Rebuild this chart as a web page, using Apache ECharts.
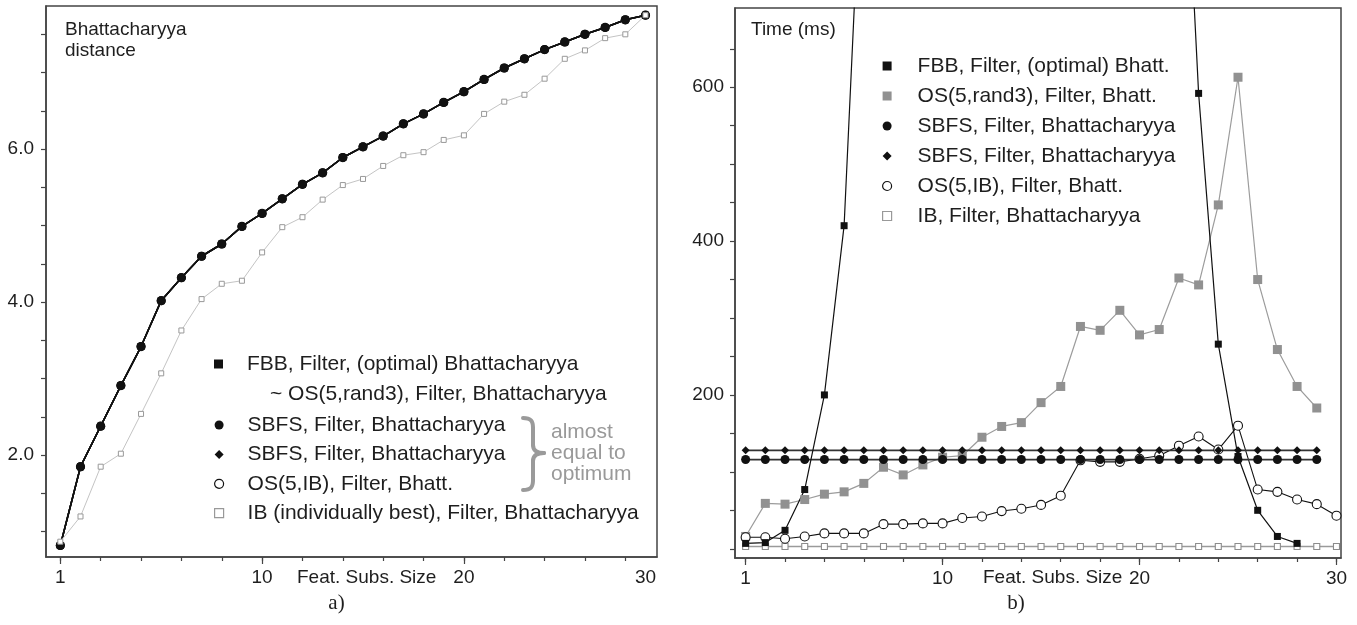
<!DOCTYPE html>
<html>
<head>
<meta charset="utf-8">
<script src="https://cdn.jsdelivr.net/npm/echarts@6/dist/echarts.min.js"></script>
<style>
  html, body { margin: 0; padding: 0; background: #fff; }
  #chart { width: 1357px; height: 625px; }
</style>
</head>
<body>
<div id="chart"></div>
<script>
// a) Bhattacharyya distance vs. feature subset size (x = tick position index)
var featPosA = [0, 1, 2, 3, 4, 5, 6, 7, 8, 9, 10, 11, 12, 13, 14, 15, 16, 17, 18, 19, 20, 21, 22, 23, 24, 25, 26, 27, 28, 29];
var bhattOptimum = [0.82, 1.85, 2.38, 2.91, 3.42, 4.02, 4.32, 4.60, 4.76, 4.99, 5.16, 5.35, 5.54, 5.69, 5.89, 6.03, 6.17, 6.33, 6.46, 6.61, 6.75, 6.91, 7.06, 7.18, 7.30, 7.40, 7.50, 7.59, 7.69, 7.75];
var bhattIB = [0.87, 1.20, 1.85, 2.02, 2.54, 3.07, 3.63, 4.04, 4.24, 4.28, 4.65, 4.98, 5.11, 5.34, 5.53, 5.61, 5.78, 5.92, 5.96, 6.12, 6.18, 6.46, 6.62, 6.71, 6.92, 7.18, 7.29, 7.45, 7.50, 7.75];

// b) time in ms
var featPosB = [0, 1, 2, 3, 4, 5, 6, 7, 8, 9, 10, 11, 12, 13, 14, 15, 16, 17, 18, 19, 20, 21, 22, 23, 24, 25, 26, 27, 28, 29, 30];
var timeFBB = [7, 8, 24, 77, 200, 420, 970, 1900, 3200, 4600, 5800, 6700, 7200, 7300, 7000, 6300, 5400, 4400, 3400, 2500, 1800, 1400, 1100, 592, 266, 120, 50, 16, 7];
var timeOSrand3 = [16, 59, 58, 64, 71, 74, 85, 106, 96, 109, 119, 121, 145, 159, 164, 190, 211, 289, 284, 310, 278, 285, 352, 343, 447, 613, 350, 259, 211, 183];
var timeSBFSc = [116, 116, 116, 116, 116, 116, 116, 116, 116, 116, 116, 116, 116, 116, 116, 116, 116, 116, 116, 116, 116, 116, 116, 116, 116, 116, 116, 116, 116, 116];
var timeSBFSd = [128, 128, 128, 128, 128, 128, 128, 128, 128, 128, 128, 128, 128, 128, 128, 128, 128, 128, 128, 128, 128, 128, 128, 128, 128, 128, 128, 128, 128, 128];
var timeOSIB = [15, 15, 13, 16, 20, 20, 20, 32, 32, 33, 33, 40, 42, 49, 52, 57, 69, 115, 113, 113, 117, 121, 134, 146, 129, 160, 77, 74, 64, 58, 43];
var timeIB = [3, 3, 3, 3, 3, 3, 3, 3, 3, 3, 3, 3, 3, 3, 3, 3, 3, 3, 3, 3, 3, 3, 3, 3, 3, 3, 3, 3, 3, 3, 3];

// ticks and tick labels
var xTicksA = [0, 2, 4, 6, 8, 10, 12, 14, 16, 18, 20, 22, 24, 26, 28];
var xMajorA = [0, 10, 20];
var xLabelPosA = [0, 10, 20, 29];
var xTicksB = [0, 2, 4, 6, 8, 10, 12, 14, 16, 18, 20, 22, 24, 26, 28, 30];
var xMajorB = [0, 10, 20, 30];
var xLabelPosB = [0, 10, 20, 30];
var xLabelText = ['1', '10', '20', '30'];
var yTicksA = [1, 1.5, 2, 2.5, 3, 3.5, 4, 4.5, 5, 5.5, 6, 6.5, 7, 7.5];
var yLabelsA = [2, 4, 6];
var yTicksB = [0, 50, 100, 150, 200, 250, 300, 350, 400, 450, 500, 550, 600, 650];
var yLabelsB = [200, 400, 600];

var legendText = {
  'a-fbb': 'FBB, Filter, (optimal) Bhattacharyya',
  'a-sbfsc': 'SBFS, Filter, Bhattacharyya',
  'a-sbfsd': 'SBFS, Filter, Bhattacharyya',
  'a-osib': 'OS(5,IB), Filter, Bhatt.',
  'a-ib': 'IB (individually best), Filter, Bhattacharyya',
  'b-fbb': 'FBB, Filter, (optimal) Bhatt.',
  'b-osr': 'OS(5,rand3), Filter, Bhatt.',
  'b-sbfsc': 'SBFS, Filter, Bhattacharyya',
  'b-sbfsd': 'SBFS, Filter, Bhattacharyya',
  'b-osib': 'OS(5,IB), Filter, Bhatt.',
  'b-ib': 'IB, Filter, Bhattacharyya'
};

var FONT = '"Liberation Sans", Arial, sans-serif';
var INK = '#1e1e1e';
var AX = '#444';
var BRACE = '#9a9a9a';

function pairs(xs, ys) {
  return ys.map(function (y, i) { return [xs[i], y]; });
}

function xAxisMain(grid, min, max, ticks, labelPos) {
  return {
    gridIndex: grid, type: 'value', min: min, max: max, position: 'bottom',
    axisLine: { show: true, onZero: false, lineStyle: { color: AX, width: 1.5 } },
    axisTick: { show: true, length: 4, customValues: ticks, lineStyle: { color: AX, width: 1.2 } },
    axisLabel: {
      customValues: labelPos, margin: 11, fontSize: 19, fontFamily: FONT, color: INK,
      formatter: function (v) { return xLabelText[labelPos.indexOf(v)]; }
    },
    splitLine: { show: false }
  };
}
function xAxisMajor(grid, min, max, ticks) {
  return {
    gridIndex: grid, type: 'value', min: min, max: max, position: 'bottom',
    axisLine: { show: false, onZero: false },
    axisTick: { show: true, length: 7, customValues: ticks, lineStyle: { color: AX, width: 1.2 } },
    axisLabel: { show: false },
    splitLine: { show: false }
  };
}

// curly brace next to the "almost equal" group, drawn as pieces
function braceCurve(x1, y1, c1x, c1y, c2x, c2y, x2, y2) {
  return { type: 'bezierCurve', shape: { x1: x1, y1: y1, cpx1: c1x, cpy1: c1y, cpx2: c2x, cpy2: c2y, x2: x2, y2: y2 },
    style: { fill: null, stroke: BRACE, lineWidth: 4, lineCap: 'round' } };
}
function braceLine(x1, y1, x2, y2) {
  return { type: 'line', shape: { x1: x1, y1: y1, x2: x2, y2: y2 },
    style: { stroke: BRACE, lineWidth: 4, lineCap: 'round' } };
}

var chart = echarts.init(document.getElementById('chart'), null, { renderer: 'canvas' });

var legendBase = {
  orient: 'vertical', selectedMode: false, itemWidth: 9, itemHeight: 9, padding: 0,
  formatter: function (name) { return legendText[name]; }
};
function legendText21(padLeft) {
  return { fontFamily: FONT, fontSize: 21, lineHeight: 21, color: INK, padding: [0, 0, 0, padLeft] };
}

var option = {
  animation: false,
  backgroundColor: '#fff',
  grid: [
    { left: 46, top: 6, width: 611, height: 551, show: true, borderColor: AX, borderWidth: 1.5 },
    { left: 735, top: 8, width: 606, height: 550, show: true, borderColor: AX, borderWidth: 1.5 }
  ],
  xAxis: [
    xAxisMain(0, -0.71, 29.57, xTicksA, xLabelPosA),
    xAxisMajor(0, -0.71, 29.57, xMajorA),
    xAxisMain(1, -0.54, 30.23, xTicksB, xLabelPosB),
    xAxisMajor(1, -0.54, 30.23, xMajorB)
  ],
  yAxis: [
    {
      gridIndex: 0, type: 'value', min: 0.67, max: 7.87,
      axisLine: { show: true, onZero: false, lineStyle: { color: AX, width: 1.5 } },
      axisTick: { show: true, length: 5, customValues: yTicksA, lineStyle: { color: AX, width: 1.2 } },
      axisLabel: { customValues: yLabelsA, margin: 12, fontSize: 19, fontFamily: FONT, color: INK,
        formatter: function (v) { return v.toFixed(1); } },
      splitLine: { show: false }
    },
    {
      gridIndex: 1, type: 'value', min: -12, max: 703,
      axisLine: { show: true, onZero: false, lineStyle: { color: AX, width: 1.5 } },
      axisTick: { show: true, length: 5, customValues: yTicksB, lineStyle: { color: AX, width: 1.2 } },
      axisLabel: { customValues: yLabelsB, margin: 11, fontSize: 19, fontFamily: FONT, color: INK },
      splitLine: { show: false }
    }
  ],
  legend: [
    Object.assign({}, legendBase, {
      left: 214, top: 353.5, textStyle: legendText21(19),
      data: [{ name: 'a-fbb', icon: 'rect', itemStyle: { color: '#111' } }]
    }),
    Object.assign({}, legendBase, {
      left: 214, top: 414.5, itemGap: 8.4, textStyle: legendText21(19),
      data: [
        { name: 'a-sbfsc', icon: 'circle', itemStyle: { color: '#111' } },
        { name: 'a-sbfsd', icon: 'diamond', itemStyle: { color: '#111' } },
        { name: 'a-osib', icon: 'circle', itemStyle: { color: '#fff', borderColor: '#111', borderWidth: 1.2 } },
        { name: 'a-ib', icon: 'rect', itemStyle: { color: '#fff', borderColor: '#999', borderWidth: 1.2 } }
      ]
    }),
    Object.assign({}, legendBase, {
      left: 882, top: 55.5, itemGap: 9, textStyle: legendText21(21),
      data: [
        { name: 'b-fbb', icon: 'rect', itemStyle: { color: '#111' } },
        { name: 'b-osr', icon: 'rect', itemStyle: { color: '#919191' } },
        { name: 'b-sbfsc', icon: 'circle', itemStyle: { color: '#111' } },
        { name: 'b-sbfsd', icon: 'diamond', itemStyle: { color: '#111' } },
        { name: 'b-osib', icon: 'circle', itemStyle: { color: '#fff', borderColor: '#111', borderWidth: 1.2 } },
        { name: 'b-ib', icon: 'rect', itemStyle: { color: '#fff', borderColor: '#999', borderWidth: 1.2 } }
      ]
    })
  ],
  series: [
    // ---- a)
    { name: 'a-osib', type: 'line', xAxisIndex: 0, yAxisIndex: 0, data: pairs(featPosA, bhattOptimum),
      symbol: 'circle', symbolSize: 8, lineStyle: { color: '#111', width: 1.5 },
      itemStyle: { color: '#fff', borderColor: '#111', borderWidth: 1.2 } },
    { name: 'a-fbb', type: 'line', xAxisIndex: 0, yAxisIndex: 0, data: pairs(featPosA, bhattOptimum),
      symbol: 'rect', symbolSize: 7, lineStyle: { color: '#111', width: 1.5 }, itemStyle: { color: '#111' } },
    { name: 'a-sbfsd', type: 'line', xAxisIndex: 0, yAxisIndex: 0, data: pairs(featPosA, bhattOptimum),
      symbol: 'diamond', symbolSize: 8, lineStyle: { color: '#111', width: 1.5 }, itemStyle: { color: '#111' } },
    { name: 'a-sbfsc', type: 'line', xAxisIndex: 0, yAxisIndex: 0, data: pairs(featPosA, bhattOptimum),
      symbol: 'circle', symbolSize: 9, lineStyle: { color: '#111', width: 1.6 }, itemStyle: { color: '#111' } },
    { name: 'a-ib', type: 'line', xAxisIndex: 0, yAxisIndex: 0, data: pairs(featPosA, bhattIB),
      symbol: 'rect', symbolSize: 5, lineStyle: { color: '#c4c4c4', width: 1 },
      itemStyle: { color: '#fff', borderColor: '#999', borderWidth: 1 } },
    // ---- b)
    { name: 'b-ib', type: 'line', xAxisIndex: 2, yAxisIndex: 1, data: pairs(featPosB, timeIB),
      symbol: 'rect', symbolSize: 6, lineStyle: { color: '#9a9a9a', width: 1.4 },
      itemStyle: { color: '#fff', borderColor: '#8c8c8c', borderWidth: 1.1 } },
    { name: 'b-osr', type: 'line', xAxisIndex: 2, yAxisIndex: 1, data: pairs(featPosB, timeOSrand3),
      symbol: 'rect', symbolSize: 9, lineStyle: { color: '#9c9c9c', width: 1.2 }, itemStyle: { color: '#919191' } },
    { name: 'b-osib', type: 'line', xAxisIndex: 2, yAxisIndex: 1, data: pairs(featPosB, timeOSIB),
      symbol: 'circle', symbolSize: 9, lineStyle: { color: '#111', width: 1.1 },
      itemStyle: { color: '#fff', borderColor: '#111', borderWidth: 1.1 } },
    { name: 'b-sbfsd', type: 'line', xAxisIndex: 2, yAxisIndex: 1, data: pairs(featPosB, timeSBFSd),
      symbol: 'diamond', symbolSize: 8, lineStyle: { color: '#333', width: 1.8 }, itemStyle: { color: '#111' } },
    { name: 'b-sbfsc', type: 'line', xAxisIndex: 2, yAxisIndex: 1, data: pairs(featPosB, timeSBFSc),
      symbol: 'circle', symbolSize: 9, lineStyle: { color: '#333', width: 1.8 }, itemStyle: { color: '#111' } },
    { name: 'b-fbb', type: 'line', xAxisIndex: 2, yAxisIndex: 1, data: pairs(featPosB, timeFBB),
      symbol: 'rect', symbolSize: 7, clip: true, lineStyle: { color: '#111', width: 1.2 }, itemStyle: { color: '#111' } }
  ],
  graphic: [
    { type: 'text', x: 65, y: 19, style: { text: 'Bhattacharyya\ndistance', font: '19px ' + FONT, lineHeight: 21, fill: INK } },
    { type: 'text', x: 751, y: 19, style: { text: 'Time (ms)', font: '19px ' + FONT, lineHeight: 21, fill: INK } },
    { type: 'text', x: 297, y: 578, style: { text: 'Feat. Subs. Size', font: '19px ' + FONT, fill: INK, verticalAlign: 'middle' } },
    { type: 'text', x: 983, y: 578, style: { text: 'Feat. Subs. Size', font: '19px ' + FONT, fill: INK, verticalAlign: 'middle' } },
    { type: 'text', x: 270, y: 394, style: { text: '~ OS(5,rand3), Filter, Bhattacharyya', font: '21px ' + FONT, fill: INK, verticalAlign: 'middle' } },
    { type: 'text', x: 551, y: 421.5, style: { text: 'almost\nequal to\noptimum', font: '21px ' + FONT, lineHeight: 21, fill: '#999' } },
    braceCurve(523, 418, 531, 418, 533, 421, 533, 428),
    braceLine(533, 428, 533, 445),
    braceCurve(533, 445, 533, 451, 537, 453, 544, 453),
    braceCurve(544, 453, 537, 453, 533, 455, 533, 461),
    braceLine(533, 461, 533, 480),
    braceCurve(533, 480, 533, 487, 531, 490, 523, 490),
    { type: 'text', x: 336.5, y: 603, style: { text: 'a)', font: '21px "Liberation Serif", serif', fill: INK, align: 'center', verticalAlign: 'middle' } },
    { type: 'text', x: 1016, y: 603, style: { text: 'b)', font: '21px "Liberation Serif", serif', fill: INK, align: 'center', verticalAlign: 'middle' } }
  ]
};

chart.setOption(option);
</script>
</body>
</html>
